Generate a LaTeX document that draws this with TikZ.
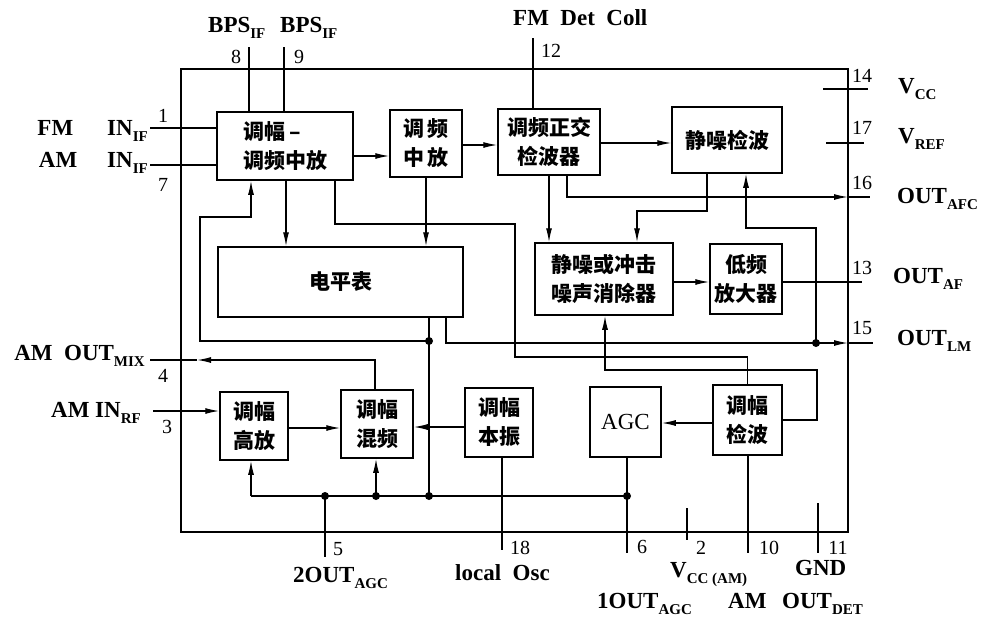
\documentclass[tikz,border=0pt]{standalone}
\usepackage{fontspec}
\setmainfont{Liberation Serif}
\newfontfamily\cjk{Noto Sans CJK SC}
\usetikzlibrary{arrows.meta}
\newcommand\sbs[1]{\raisebox{-6pt}{\fontsize{15}{15}\selectfont #1}}
\begin{document}
\begin{tikzpicture}[x=1pt,y=-1pt,
  blk/.style={draw, line width=1.5pt, inner sep=0pt, font={\cjk\bfseries\fontsize{21}{29}\selectfont}, align=center},
  wire/.style={line width=1.3pt},
  arr/.style={wire, -{Latex[length=14pt,width=6pt]}},
  lbl/.style={font={\bfseries\fontsize{23}{26}\selectfont}, inner sep=0pt},
  num/.style={font={\fontsize{20}{21}\selectfont}, inner sep=0pt},
  jdot/.style={circle, fill, inner sep=0pt, minimum size=8pt}
]
\useasboundingbox[fill=white] (0,0) rectangle (984,622);

% chip outline
\node[draw, line width=1.6pt, minimum width=667pt, minimum height=463pt, inner sep=0pt, outer sep=0pt] (chip) at (514.5,300.5) {};

% blocks
\node[blk, minimum width=136pt, minimum height=68pt, align=left] (ifa) at (285,146) {调幅 –\\调频中放};
\node[blk, minimum width=72pt, minimum height=67pt] (fmif) at (426,143.5) {调\,频\\中\,放};
\node[blk, minimum width=102pt, minimum height=66pt] (qdet) at (549,142) {调频正交\\检波器};
\node[blk, minimum width=110pt, minimum height=66pt] (sqd) at (727,140) {静噪检波};
\node[blk, minimum width=245pt, minimum height=70pt] (lvl) at (340.5,282) {电平表};
\node[blk, minimum width=138pt, minimum height=72pt] (nc) at (604,279) {静噪或冲击\\噪声消除器};
\node[blk, minimum width=72pt, minimum height=70pt] (af) at (746,279) {低频\\放大器};
\node[blk, minimum width=68pt, minimum height=68pt] (rfa) at (254,426) {调幅\\高放};
\node[blk, minimum width=72pt, minimum height=68pt] (mix) at (377,424) {调幅\\混频};
\node[blk, minimum width=68pt, minimum height=69pt] (osc) at (499,422.5) {调幅\\本振};
\node[blk, minimum width=71pt, minimum height=70pt, font={\fontsize{23}{26}\selectfont}] (agc) at (625.5,422) {AGC};
\node[blk, minimum width=69pt, minimum height=70pt] (amd) at (747.5,420) {调幅\\检波};

% helper coordinates
\foreach \v in {200,251,286,325,335,375,376,446,502,515,549,567,605,627,637,707,746,817}
  \coordinate (v\v) at (\v,0);
\foreach \h in {143,145,156,197,211,217,224,228,282,343,357,370,423,427,428,496}
  \coordinate (h\h) at (0,\h);
\coordinate (dotA) at (429,341);
\coordinate (dotB) at (816,343);
\coordinate (m4) at (197,360);

% pin ends
\coordinate (p1) at (150,128);
\coordinate (p7) at (150,165);
\coordinate (p4) at (150,360);
\coordinate (p3) at (153,411);
\coordinate (p8) at (249,47);
\coordinate (p9) at (284,47);
\coordinate (p12) at (533,38);
\coordinate (p14a) at (823,89);
\coordinate (p14b) at (868,89);
\coordinate (p17a) at (826,143);
\coordinate (p17b) at (864,143);
\coordinate (p16) at (870,197);
\coordinate (p13) at (862,282);
\coordinate (p15) at (873,343);
\coordinate (p5) at (325,557);
\coordinate (p18) at (502,550);
\coordinate (p6) at (627,553);
\coordinate (p2a) at (687,508);
\coordinate (p2b) at (687,540);
\coordinate (p10) at (748,553);
\coordinate (p11a) at (818,503);
\coordinate (p11b) at (818,553);

% pin wires
\draw[wire] (p1) -- (p1 -| ifa.west);
\draw[wire] (p7) -- (p7 -| ifa.west);
\draw[wire] (p8) -- (p8 |- ifa.north);
\draw[wire] (p9) -- (p9 |- ifa.north);
\draw[wire] (p12) -- (p12 |- qdet.north);
\draw[wire] (p14a) -- (p14b);
\draw[wire] (p17a) -- (p17b);
\draw[wire] (p2a) -- (p2b);
\draw[wire] (p11a) -- (p11b);

% signal path
\draw[arr] (h156 -| ifa.east) -- (h156 -| fmif.west);
\draw[arr] (h145 -| fmif.east) -- (h145 -| qdet.west);
\draw[arr] (h143 -| qdet.east) -- (h143 -| sqd.west);
\draw[arr] (v286 |- ifa.south) -- (v286 |- lvl.north);
\draw[arr] (fmif.south) -- (fmif.south |- lvl.north);
\draw[arr] (dotA) -- (dotA -| v200) |- (v251 |- h217) -- (v251 |- ifa.south);
\draw[wire] (dotA |- lvl.south) -- (dotA) -- (dotA |- h496);
\draw[wire] (v335 |- ifa.south) |- (v515 |- h224) |- (amd.north |- h357) -- (amd.north);
\draw[arr] (v549 |- qdet.south) -- (v549 |- nc.north);
\draw[arr] (v567 |- qdet.south) |- (chip.east |- h197);
\draw[wire] (chip.east |- h197) -- (p16);
\draw[arr] (v707 |- sqd.south) |- (v637 |- h211) -- (v637 |- nc.north);
\draw[arr] (dotB) |- (v746 |- h228) -- (v746 |- sqd.south);
\draw[arr] (nc.east |- h282) -- (af.west |- h282);
\draw[wire] (af.east |- h282) -- (p13);
\draw[arr] (v446 |- lvl.south) |- (chip.east |- h343);
\draw[wire] (chip.east |- h343) -- (p15);
\draw[arr] (amd.east) -| (v817 |- h370) -| (v605 |- nc.south);

% AM section
\draw[arr] (p3) -- (p3 -| rfa.west);
\draw[arr] (h428 -| rfa.east) -- (h428 -| mix.west);
\draw[arr] (h427 -| osc.west) -- (h427 -| mix.east);
\draw[arr] (v375 |- mix.north) |- (m4);
\draw[wire] (m4) -- (p4);
\draw[arr] (h423 -| amd.west) -- (h423 -| agc.east);
\draw[wire] (v251 |- h496) -- (v627 |- h496);
\draw[arr] (v251 |- h496) -- (v251 |- rfa.south);
\draw[arr] (v376 |- h496) -- (v376 |- mix.south);
\draw[wire] (v627 |- agc.south) -- (p6);
\draw[wire] (v325 |- h496) -- (p5);
\draw[wire] (v502 |- osc.south) -- (p18);
\draw[wire] (p10 |- amd.south) -- (p10);

% junction dots
\node[jdot] (j1) at (dotA) {};
\node[jdot] (j2) at (dotB) {};
\node[jdot] (j3) at (v325 |- h496) {};
\node[jdot] (j4) at (v376 |- h496) {};
\node[jdot] (j5) at (dotA |- h496) {};
\node[jdot] (j6) at (v627 |- h496) {};

% pin numbers
\node[num] (n8) at (236,57) {8};
\node[num] (n9) at (299,57) {9};
\node[num] (n12) at (551,51) {12};
\node[num] (n14) at (862,76) {14};
\node[num] (n17) at (862,128) {17};
\node[num] (n16) at (862,183) {16};
\node[num] (n13) at (862,268) {13};
\node[num] (n15) at (862,328) {15};
\node[num] (n1) at (163,116) {1};
\node[num] (n7) at (163,185) {7};
\node[num] (n4) at (163,376) {4};
\node[num] (n3) at (167,427) {3};
\node[num] (n5) at (338,549) {5};
\node[num] (n18) at (520,548) {18};
\node[num] (n6) at (642,547) {6};
\node[num] (n2) at (701,548) {2};
\node[num] (n10) at (769,548) {10};
\node[num] (n11) at (838,548) {11};

% signal names
\node[lbl, anchor=base west] (tb8) at (208,32) {BPS\sbs{IF}};
\node[lbl, anchor=base west] (tb9) at (280,32) {BPS\sbs{IF}};
\node[lbl, anchor=base west] (tfm) at (513,25) {FM\ \ Det\ \ Coll};
\node[lbl, anchor=base west] (tvcc) at (898,93) {V\sbs{CC}};
\node[lbl, anchor=base west] (tvref) at (898,143) {V\sbs{REF}};
\node[lbl, anchor=base west] (tafc) at (897,203) {OUT\sbs{AFC}};
\node[lbl, anchor=base west] (taf) at (893,283) {OUT\sbs{AF}};
\node[lbl, anchor=base west] (tlm) at (897,345) {OUT\sbs{LM}};
\node[lbl, anchor=base east] (tfmin) at (148,135) {FM\hspace{34pt}IN\sbs{IF}};
\node[lbl, anchor=base east] (tamin) at (148,167) {AM\hspace{30pt}IN\sbs{IF}};
\node[lbl, anchor=base east] (tmix) at (145,360) {AM\ \ OUT\sbs{MIX}};
\node[lbl, anchor=base east] (trf) at (141,417) {AM IN\sbs{RF}};
\node[lbl, anchor=base west] (tagc2) at (293,582) {2OUT\sbs{AGC}};
\node[lbl, anchor=base west] (tosc) at (455,580) {local\ \ Osc};
\node[lbl, anchor=base west] (tagc1) at (597,608) {1OUT\sbs{AGC}};
\node[lbl, anchor=base west] (tvam) at (670,577) {V\sbs{CC (AM)}};
\node[lbl, anchor=base west] (tam) at (728,608) {AM};
\node[lbl, anchor=base west] (tdet) at (782,608) {OUT\sbs{DET}};
\node[lbl, anchor=base west] (tgnd) at (795,575) {GND};
\end{tikzpicture}
\end{document}
